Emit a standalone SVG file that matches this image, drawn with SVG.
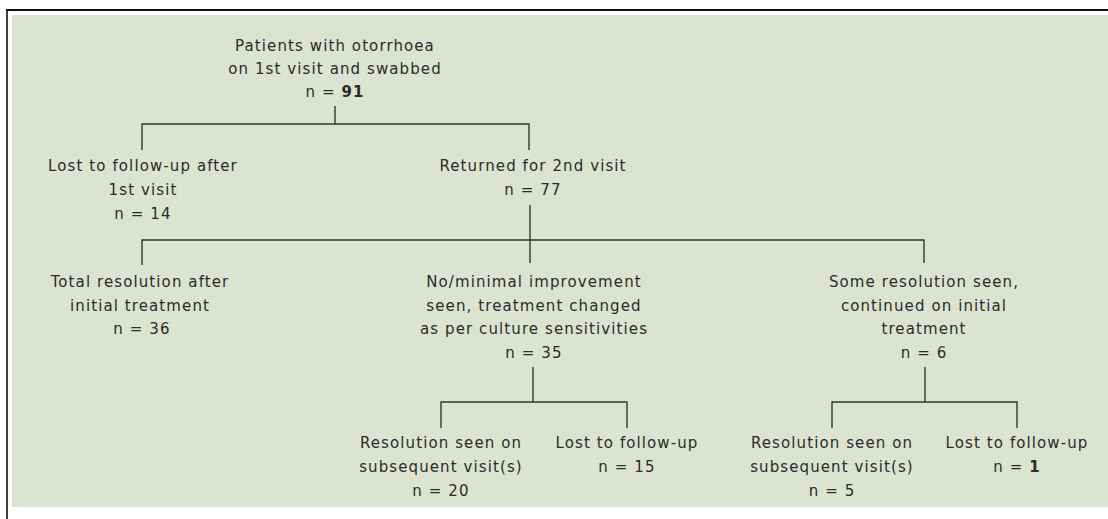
<svg xmlns="http://www.w3.org/2000/svg" width="1108" height="519" viewBox="0 0 1108 519">
<style>
  .t { font-family: "DejaVu Sans", "Liberation Sans", sans-serif; font-size: 15px; letter-spacing: 1.1px; fill: #2b2b2b; text-anchor: middle; }
  .b { font-weight: bold; }
  .c { stroke: #333; stroke-width: 1.4; fill: none; }
</style>
<rect x="0" y="0" width="1108" height="519" fill="#ffffff"/>
<rect x="12" y="15" width="1096" height="492" fill="#dce3d1"/>
<line x1="6" y1="10" x2="1108" y2="10" stroke="#111" stroke-width="2"/>
<line x1="7" y1="9" x2="7" y2="519" stroke="#111" stroke-width="1.6"/>

<g id="connectors" class="c">
  <path d="M335 106V124M142 150V124H529V150"/>
  <path d="M530 205V263M142 265V240H924V263"/>
  <path d="M533 367V402M441 428V402H627V428"/>
  <path d="M925 367V402M832 428V402H1017V428"/>
</g>

<g id="n_root">
  <text class="t" x="335" y="51">Patients with otorrhoea</text>
  <text class="t" x="335" y="74">on 1st visit and swabbed</text>
  <text class="t" x="335" y="97">n = <tspan class="b">91</tspan></text>
</g>
<g id="n_lost1">
  <text class="t" x="143" y="171">Lost to follow-up after</text>
  <text class="t" x="143" y="195">1st visit</text>
  <text class="t" x="143" y="219">n = 14</text>
</g>
<g id="n_returned">
  <text class="t" x="533" y="171">Returned for 2nd visit</text>
  <text class="t" x="533" y="195">n = 77</text>
</g>
<g id="n_total">
  <text class="t" x="140" y="287">Total resolution after</text>
  <text class="t" x="140" y="311">initial treatment</text>
  <text class="t" x="142" y="334">n = 36</text>
</g>
<g id="n_nomin">
  <text class="t" x="534" y="287">No/minimal improvement</text>
  <text class="t" x="534" y="310.5">seen, treatment changed</text>
  <text class="t" x="534" y="334">as per culture sensitivities</text>
  <text class="t" x="534" y="358">n = 35</text>
</g>
<g id="n_some">
  <text class="t" x="924" y="287">Some resolution seen,</text>
  <text class="t" x="924" y="310.5">continued on initial</text>
  <text class="t" x="924" y="334">treatment</text>
  <text class="t" x="924" y="358">n = 6</text>
</g>
<g id="n_res_mid">
  <text class="t" x="441" y="448">Resolution seen on</text>
  <text class="t" x="441" y="472">subsequent visit(s)</text>
  <text class="t" x="441" y="496">n = 20</text>
</g>
<g id="n_lost_mid">
  <text class="t" x="627" y="448">Lost to follow-up</text>
  <text class="t" x="627" y="472">n = 15</text>
</g>
<g id="n_res_right">
  <text class="t" x="832" y="448">Resolution seen on</text>
  <text class="t" x="832" y="472">subsequent visit(s)</text>
  <text class="t" x="832" y="496">n = 5</text>
</g>
<g id="n_lost_right">
  <text class="t" x="1017" y="448">Lost to follow-up</text>
  <text class="t" x="1017" y="472">n = <tspan class="b">1</tspan></text>
</g>
</svg>
